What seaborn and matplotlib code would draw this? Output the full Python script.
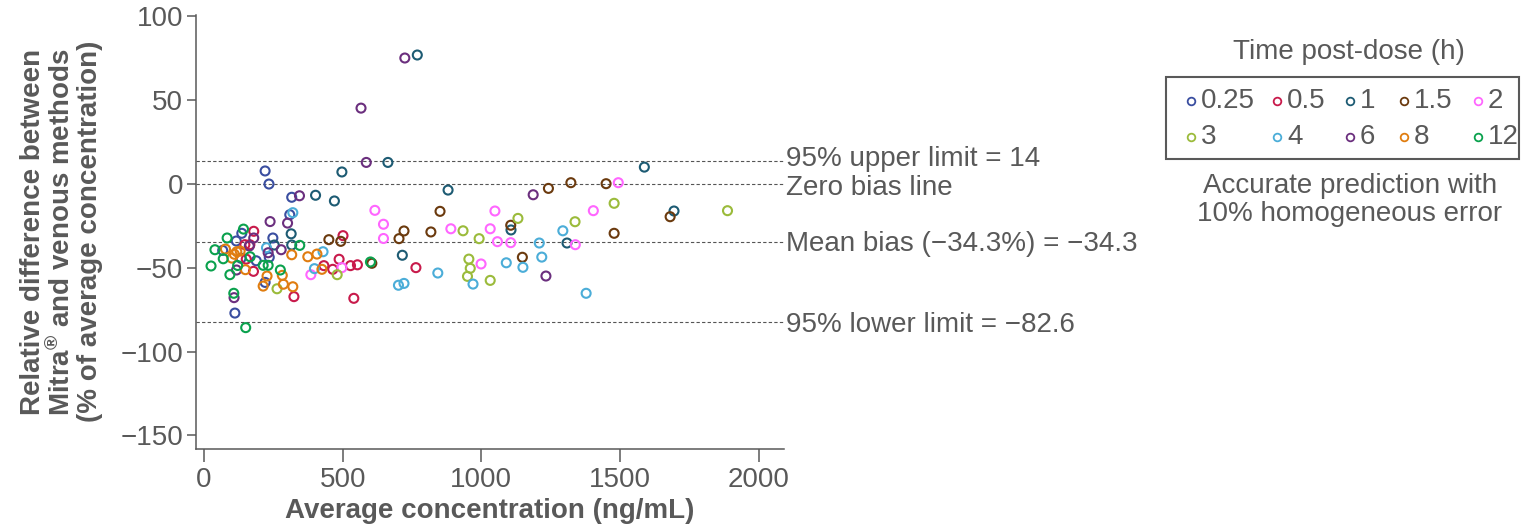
import matplotlib
matplotlib.use('Agg')
import numpy as np
import pandas as pd
import matplotlib.pyplot as plt
from matplotlib.lines import Line2D
from matplotlib.patches import Rectangle
import seaborn as sns

# time post-dose groups (h) and their colours
times  = ['0.25', '0.5', '1', '1.5', '2', '3', '4', '6', '8', '12']
colors = ['#3a4ea0', '#c81a4b', '#1d5b73', '#6b3a0e', '#ff66ff',
          '#9bbb3b', '#4badd8', '#6b2f7e', '#e07d10', '#0aa14d']

# average concentration (ng/mL) / relative difference (%) per group
conc_025 = [220, 234, 316, 309, 136, 116, 248, 67, 133, 188, 235, 220, 111]
diff_025 = [7.8, 0, -7.9, -18.3, -29.4, -34, -32.2, -39.6, -44.3, -45.8, -43.7, -58.7, -77]

conc_05 = [179, 147, 165, 501, 487, 152, 178, 324, 432, 464, 528, 553, 540, 764]
diff_05 = [-28.2, -36.2, -36.2, -30.8, -44.9, -44.8, -52.1, -67.2, -48.7, -50.9, -48.7, -48.2, -68.2, -49.9]

conc_1 = [497, 663, 769, 402, 470, 314, 253, 316, 715, 880, 1588, 1695, 1107, 1309]
diff_1 = [7.2, 12.9, 77, -6.7, -10.1, -29.7, -36.4, -36.4, -42.5, -3.6, 10.1, -16.1, -27.4, -35.2]

conc_15 = [450, 493, 721, 703, 818, 851, 1106, 1148, 1242, 1323, 1450, 1479, 1681, 605]
diff_15 = [-33.2, -34.2, -28, -32.6, -28.6, -16.3, -24.6, -43.7, -2.6, 0.8, 0.2, -29.4, -19.5, -47.3]

conc_2 = [616, 647, 647, 385, 497, 890, 1049, 1032, 1058, 1106, 999, 1404, 1494, 1339]
diff_2 = [-15.7, -24, -32.5, -54.1, -49.9, -26.7, -16.1, -26.7, -34.4, -35, -47.7, -15.9, 0.8, -36.2]

conc_3 = [263, 480, 934, 992, 1132, 1338, 1479, 1888, 955, 960, 950, 1032]
diff_3 = [-62.5, -54.1, -27.9, -32.6, -20.5, -22.5, -11.5, -15.9, -44.8, -50.3, -55.1, -57.5]

conc_4 = [320, 225, 429, 398, 701, 721, 843, 970, 1090, 1150, 1218, 1209, 1294, 1378]
diff_4 = [-17.1, -38, -40.4, -50.5, -60.4, -59.3, -53.1, -59.7, -47, -49.7, -43.6, -35.2, -27.9, -65.2]

conc_6 = [724, 585, 566, 344, 238, 301, 179, 163, 231, 278, 117, 108, 1187, 1233]
diff_6 = [75.2, 12.9, 45.3, -7, -22.4, -23.3, -32.2, -37, -41, -39.2, -51.3, -67.8, -6.4, -54.9]

conc_8 = [77, 118, 130, 109, 100, 316, 374, 407, 149, 227, 282, 213, 286, 320, 425]
diff_8 = [-38.8, -40.4, -40, -41.9, -44.2, -42.2, -43.4, -41.8, -51.1, -54.9, -54.5, -60.9, -59.8, -61.3, -50.9]

conc_12 = [142, 83, 345, 39, 69, 166, 25, 121, 93, 213, 231, 275, 107, 150, 600]
diff_12 = [-26.9, -32.2, -36.6, -39.2, -44.6, -43.4, -48.9, -48.6, -54.1, -48.5, -48.5, -51.3, -65.2, -85.7, -46.5]

# reference lines: value, label
ref_values = [14, 0, -34.3, -82.6]
ref_labels = ['95% upper limit = 14', 'Zero bias line',
              'Mean bias (\u221234.3%) = \u221234.3', '95% lower limit = \u221282.6']
ref_text_shift = [1.0, -2.6, -1.3, -1.8]

x_ticks = [0, 500, 1000, 1500, 2000]
y_ticks = [100, 50, 0, -50, -100, -150]

groups = [(conc_025, diff_025), (conc_05, diff_05), (conc_1, diff_1), (conc_15, diff_15),
          (conc_2, diff_2), (conc_3, diff_3), (conc_4, diff_4), (conc_6, diff_6),
          (conc_8, diff_8), (conc_12, diff_12)]
df = pd.concat([pd.DataFrame({'conc': c, 'diff': d, 'time': t})
                for t, (c, d) in zip(times, groups)], ignore_index=True)

sns.set_style('ticks')
plt.rcParams['font.family'] = ['Liberation Sans', 'DejaVu Sans']
plt.rcParams['mathtext.fontset'] = 'custom'
plt.rcParams['mathtext.rm'] = 'Liberation Sans'
plt.rcParams['mathtext.bf'] = 'Liberation Sans:bold'
grey = '#595959'

W, H = 1533, 528
fig = plt.figure(figsize=(W / 100, H / 100), dpi=100)
ax = fig.add_axes([0.1279, 0.150, 0.3832, 0.822])

sns.scatterplot(data=df, x='conc', y='diff', hue='time', hue_order=times,
                palette=dict(zip(times, colors)), s=42, legend=False, ax=ax, zorder=3)
# hollow circles
coll = ax.collections[0]
fc = coll.get_facecolors()
coll.set_edgecolors(fc)
coll.set_facecolors('none')
coll.set_linewidth(1.5)

for v, lab, dy in zip(ref_values, ref_labels, ref_text_shift):
    ax.axhline(v, color='#555555', lw=0.8, ls=(0, (3, 2)), zorder=1)
    ax.annotate(lab, xy=(1.0, v + dy), xycoords=ax.get_yaxis_transform(),
                xytext=(2, 0), textcoords='offset points',
                ha='left', va='center', fontsize=20, color=grey)

ax.set_xlim(-29, 2090)
ax.set_ylim(-158, 101)
ax.set_xticks(x_ticks)
ax.set_yticks(y_ticks)
ax.tick_params(axis='both', labelsize=20, colors=grey, width=1.1)
ax.tick_params(axis='x', length=9, pad=4)
ax.tick_params(axis='y', length=6.5, pad=3)
for side in ['top', 'right']:
    ax.spines[side].set_visible(False)
for side in ['left', 'bottom']:
    ax.spines[side].set_color(grey)
    ax.spines[side].set_linewidth(1.1)

ax.set_xlabel('Average concentration (ng/mL)', fontsize=20, fontweight='bold',
              color=grey, labelpad=4)
ax.set_ylabel('Relative difference between\nMitra$^{\\mathbf{\u00ae}}$ and venous methods\n(% of average concentration)',
              fontsize=20, fontweight='bold', color=grey, labelpad=12, linespacing=1.05)

# legend box drawn by hand so that the columns are evenly spaced
def fx(px):
    return px / W

def fy(py):
    return 1 - py / H

fig.add_artist(Rectangle((fx(1166), fy(159.5)), fx(1519) - fx(1166), fy(77) - fy(159.5),
                         transform=fig.transFigure, fill=False, edgecolor=grey, lw=1.5))
col_x = [1190.5, 1277, 1350, 1404, 1478]
row_y = [100.5, 136.5]
for i, (t, c) in enumerate(zip(times, colors)):
    x, y = col_x[i % 5], row_y[i // 5]
    fig.add_artist(Line2D([fx(x)], [fy(y)], transform=fig.transFigure, marker='o', ls='',
                          mfc='none', mec=c, mew=1.3, ms=5.5))
    fig.text(fx(x + 10), fy(y), t, ha='left', va='center', fontsize=20, color=grey)

fig.text(fx(1349), fy(52), 'Time post-dose (h)', ha='center', va='center',
         fontsize=20, color=grey)
fig.text(fx(1350), fy(200), 'Accurate prediction with\n10% homogeneous error',
         ha='center', va='center', fontsize=20, color=grey, linespacing=1.1)

fig.savefig('out.png', dpi=100)
